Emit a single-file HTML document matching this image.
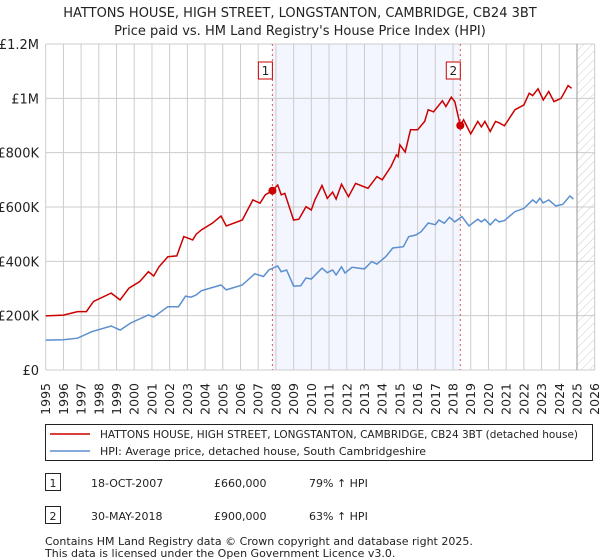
<!DOCTYPE html>
<html><head><meta charset="utf-8">
<style>
body{margin:0;background:#fff;font-family:"Liberation Sans","DejaVu Sans",sans-serif;}
#wrap{position:relative;width:600px;height:560px;overflow:hidden;}
svg text{font-family:"DejaVu Sans","Liberation Sans",sans-serif;}
</style></head>
<body><div id="wrap">
<svg id="svg" width="600" height="560"></svg>
</div>
<script>
const yTicks=[0,200000,400000,600000,800000,1000000,1200000];
const yTickLabels=["£0","£200K","£400K","£600K","£800K","£1M","£1.2M"];
const xYears=[1995,1996,1997,1998,1999,2000,2001,2002,2003,2004,2005,2006,2007,2008,2009,2010,2011,2012,2013,2014,2015,2016,2017,2018,2019,2020,2021,2022,2023,2024,2025,2026];
const hpiT=[1995.0,1996.0,1996.8,1997.6,1998.7,1999.2,1999.8,2000.8,2001.1,2001.9,2002.5,2002.9,2003.2,2003.5,2003.8,2004.9,2005.2,2006.1,2006.8,2007.3,2007.6,2008.1,2008.3,2008.6,2009.0,2009.4,2009.7,2010.0,2010.6,2010.9,2011.2,2011.4,2011.7,2011.9,2012.3,2013.0,2013.4,2013.7,2014.2,2014.6,2015.2,2015.5,2015.9,2016.2,2016.6,2017.0,2017.2,2017.5,2017.8,2018.1,2018.5,2018.9,2019.4,2019.6,2019.8,2020.1,2020.4,2020.6,2020.9,2021.5,2022.0,2022.5,2022.7,2022.9,2023.1,2023.4,2023.8,2024.2,2024.6,2024.8];
const hpiV=[110000,111000,117000,141000,162000,147000,173000,203000,195000,233000,233000,272000,268000,276000,292000,313000,295000,313000,354000,344000,368000,383000,362000,368000,309000,310000,339000,335000,375000,358000,368000,350000,380000,357000,378000,372000,399000,390000,417000,449000,454000,491000,497000,509000,541000,535000,552000,540000,562000,545000,565000,530000,555000,545000,555000,534000,555000,545000,550000,583000,595000,626000,615000,632000,615000,626000,604000,610000,641000,629000];
const priceT=[1995.0,1996.0,1996.8,1997.3,1997.7,1998.7,1999.2,1999.7,2000.3,2000.8,2001.1,2001.4,2001.9,2002.4,2002.8,2003.3,2003.5,2003.8,2004.4,2004.9,2005.2,2006.1,2006.7,2007.1,2007.4,2007.8,2008.1,2008.3,2008.5,2009.0,2009.3,2009.7,2010.0,2010.2,2010.6,2010.9,2011.2,2011.4,2011.7,2012.1,2012.5,2013.2,2013.7,2014.0,2014.5,2014.8,2014.9,2015.0,2015.3,2015.6,2016.0,2016.4,2016.6,2016.9,2017.4,2017.6,2017.9,2018.1,2018.41,2018.6,2019.0,2019.4,2019.6,2019.8,2020.1,2020.4,2020.6,2020.9,2021.5,2022.0,2022.3,2022.5,2022.8,2023.1,2023.4,2023.7,2024.1,2024.5,2024.7];
const priceV=[199000,202000,215000,215000,252000,283000,258000,301000,325000,362000,346000,380000,417000,420000,491000,479000,500000,516000,540000,567000,530000,552000,626000,614000,645000,660000,681000,645000,650000,552000,555000,601000,589000,626000,679000,632000,655000,629000,684000,638000,687000,669000,712000,700000,749000,792000,785000,829000,802000,884000,884000,915000,958000,950000,991000,970000,1004000,988000,900000,921000,869000,915000,895000,915000,878000,915000,910000,899000,958000,976000,1019000,1010000,1035000,994000,1025000,988000,1000000,1047000,1037000];
const saleT=[2007.8,2018.41];
const saleV=[660000,900000];
const saleLabels=["1","2"];

const NS="http://www.w3.org/2000/svg";
const svg=document.getElementById('svg');
const L=45.7,R=594.7,T=44,B=370;
const x=t=>L+(t-1995)/(2026-1995)*(R-L);
const y=v=>B-v/1200000*(B-T);
function mk(tag,attrs,parent){const e=document.createElementNS(NS,tag);for(const k in attrs)e.setAttribute(k,attrs[k]);(parent||svg).appendChild(e);return e;}
function txt(s,attrs,parent){const e=mk('text',attrs,parent);e.textContent=s;return e;}

let t1=txt("HATTONS HOUSE, HIGH STREET, LONGSTANTON, CAMBRIDGE, CB24 3BT",{x:300,y:17,'text-anchor':'middle','font-size':13,fill:'#222'});

let t2=txt("Price paid vs. HM Land Registry's House Price Index (HPI)",{x:300,y:35,'text-anchor':'middle','font-size':13,fill:'#222'});


let sh=mk('rect',{x:x(saleT[0]),y:T,width:x(saleT[1])-x(saleT[0]),height:B-T,fill:'#eef2fd',opacity:0.7});

const defs=mk('defs',{});
const pat=mk('pattern',{id:'hatch',width:6,height:6,patternUnits:'userSpaceOnUse',patternTransform:'rotate(45)'},defs);
mk('line',{x1:0,y1:0,x2:0,y2:6,stroke:'#ccc','stroke-width':1},pat);
let ht=mk('rect',{x:x(2025.0),y:T,width:R-x(2025.0),height:B-T,fill:'url(#hatch)'});


const grid=mk('g',{});
xYears.forEach(yr=>{mk('line',{x1:x(yr),x2:x(yr),y1:T,y2:B,stroke:'#ccc','stroke-width':1},grid);});
yTicks.forEach(v=>{mk('line',{x1:L,x2:R,y1:y(v),y2:y(v),stroke:'#ccc','stroke-width':1},grid);});
mk('line',{x1:x(2025.0),x2:x(2025.0),y1:T,y2:B,stroke:'#999','stroke-width':1},grid);

const ya=mk('g',{});
yTicks.forEach((v,i)=>{txt(yTickLabels[i],{x:39,y:y(v)+5,'text-anchor':'end','font-size':13,fill:'#222'},ya);});
const xa=mk('g',{});
xYears.forEach(yr=>{txt(String(yr),{transform:'translate('+(x(yr)+4.5)+',383) rotate(-90)','text-anchor':'end','font-size':12.5,fill:'#222'},xa);});

saleT.forEach((t,i)=>{
  let l=mk('line',{x1:x(t),x2:x(t),y1:T,y2:B,stroke:'#e05555','stroke-width':1,'stroke-dasharray':'2,3'});
  
});

function path(ts,vs){return ts.map((t,i)=>(i?'L':'M')+x(t).toFixed(1)+','+y(vs[i]).toFixed(1)).join('');}
let hp=mk('path',{d:path(hpiT,hpiV),fill:'none',stroke:'#5b8fd0','stroke-width':1.5});

let pp=mk('path',{d:path(priceT,priceV),fill:'none',stroke:'#cc0000','stroke-width':1.5});


saleT.forEach((t,i)=>{
  let c=mk('circle',{cx:x(t),cy:y(saleV[i]),r:4,fill:'#cc0000'});
  
  const g=mk('g',{});
  
  mk('rect',{x:x(t)-14,y:62,width:14,height:17,fill:'#fff',stroke:'#cc0000','stroke-width':1},g);
  txt(saleLabels[i],{x:x(t)-7,y:75,'text-anchor':'middle','font-size':12,fill:'#222'},g);
});

const lg=mk('g',{});
mk('rect',{x:45.5,y:424.5,width:547,height:36,fill:'#fff',stroke:'#222','stroke-width':1},lg);
const le1=mk('g',{},lg);
mk('line',{x1:50,x2:90,y1:434,y2:434,stroke:'#cc0000','stroke-width':1.5},le1);
txt("HATTONS HOUSE, HIGH STREET, LONGSTANTON, CAMBRIDGE, CB24 3BT (detached house)",{x:100,y:438,'font-size':11,fill:'#222',textLength:478,lengthAdjust:'spacingAndGlyphs'},le1);
const le2=mk('g',{},lg);
mk('line',{x1:50,x2:90,y1:451,y2:451,stroke:'#5b8fd0','stroke-width':1.5},le2);
txt("HPI: Average price, detached house, South Cambridgeshire",{x:100,y:455,'font-size':11,fill:'#222',textLength:326,lengthAdjust:'spacingAndGlyphs'},le2);

const rows=[["1","18-OCT-2007","£660,000","79% ↑ HPI",483],["2","30-MAY-2018","£900,000","63% ↑ HPI",516]];
rows.forEach(r=>{
  const g=mk('g',{});
  mk('rect',{x:45.5,y:r[4]-9.5,width:15,height:17,fill:'#fff',stroke:'#222','stroke-width':1},g);
  txt(r[0],{x:53,y:r[4]+4,'text-anchor':'middle','font-size':11,fill:'#222'},g);
  txt(r[1],{x:91,y:r[4]+4,'font-size':11,fill:'#222'},g);
  txt(r[2],{x:214,y:r[4]+4,'font-size':11,fill:'#222'},g);
  txt(r[3],{x:309,y:r[4]+4,'font-size':11,fill:'#222'},g);
});
let f1=txt("Contains HM Land Registry data © Crown copyright and database right 2025.",{x:45,y:545,'font-size':11,fill:'#222'});

let f2=txt("This data is licensed under the Open Government Licence v3.0.",{x:45,y:557,'font-size':11,fill:'#222'});

</script>
</body></html>
